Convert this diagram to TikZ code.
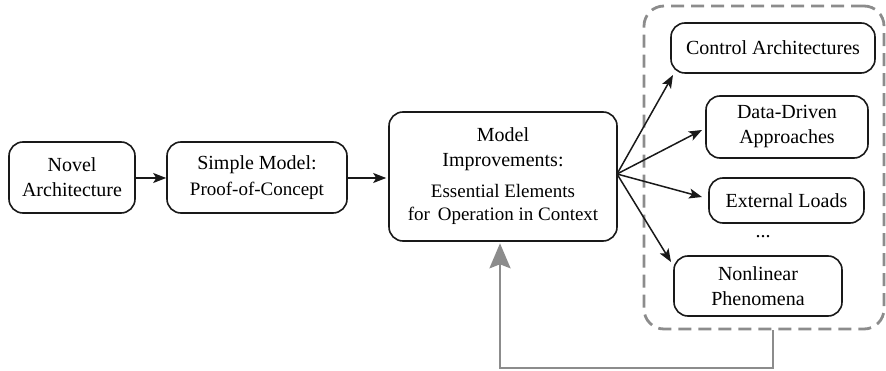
\documentclass[tikz,border=0pt]{standalone}
\usepackage{fontspec}
\setmainfont{Liberation Serif}
\usetikzlibrary{arrows.meta,calc}
\begin{document}
\begin{tikzpicture}[x=1pt,y=-1pt,
  box/.style={draw=black!90,line width=1.6pt,rounded corners=14pt,align=center,inner sep=0pt,
    font=\fontsize{20}{25}\selectfont},
  arr/.style={draw=black!90,line width=1.5pt,-{Stealth[length=13pt,width=10pt,inset=3pt]}},
  fb/.style={draw=black!45,line width=2.5pt,-{Stealth[length=25pt,width=21pt,inset=4pt]}},
  grp/.style={draw=black!45,line width=2.8pt,dash pattern=on 13pt off 7pt,rounded corners=20pt}]
\useasboundingbox (0,0) rectangle (886,371);
\node[box,minimum width=126pt,minimum height=71pt] (novel) at (72,177.5) {Novel\\Architecture};
\node[box,minimum width=180pt,minimum height=71pt] (simple) at (257,177.5)
  {Simple Model:\\[1pt]{\fontsize{19}{23}\selectfont Proof-of-Concept}};
\node[box,minimum width=228pt,minimum height=129pt] (model) at (503,176.5)
  {Model\\Improvements:\\[6pt]{\fontsize{19}{23}\selectfont Essential Elements}\\[-2pt]{\fontsize{19}{23}\selectfont for\, Operation in Context}};
\node[grp,minimum width=240pt,minimum height=323pt] (group) at (764,167.5) {};
\node[box,minimum width=204pt,minimum height=50pt] (ctrl) at (773,48) {Control Architectures};
\node[box,minimum width=162pt,minimum height=62pt] (data) at (787,127) {Data-Driven\\Approaches};
\node[box,minimum width=155pt,minimum height=45pt] (ext) at (786.5,200.5) {External Loads};
\node[font=\fontsize{20}{25}\selectfont] (dots) at (763,237) {...};
\node[box,minimum width=168pt,minimum height=60pt] (nonlin) at (758,286) {Nonlinear\\Phenomena};
\coordinate (fan) at (617,174);
\draw[arr] (novel.east |- 0,178) -- (simple.west |- 0,178);
\draw[arr] (simple.east |- 0,178) -- ($(model.west |- 0,178)+(-2,0)$);
\coordinate (tc) at (673,75);
\coordinate (td) at (702,130);
\coordinate (te) at (702,197);
\coordinate (tn) at (671,262);
\draw[arr] (fan) -- (tc);
\draw[arr] (fan) -- (td);
\draw[arr] (fan) -- (te);
\draw[arr] (fan) -- (tn);
\coordinate (fbs) at (773,368);
\coordinate (fbe) at (500,368);
\draw[fb] (fbs |- group.south) -- (fbs) -- (fbe) -- ($(fbe |- model.south)+(0,1.5)$);
\end{tikzpicture}
\end{document}
